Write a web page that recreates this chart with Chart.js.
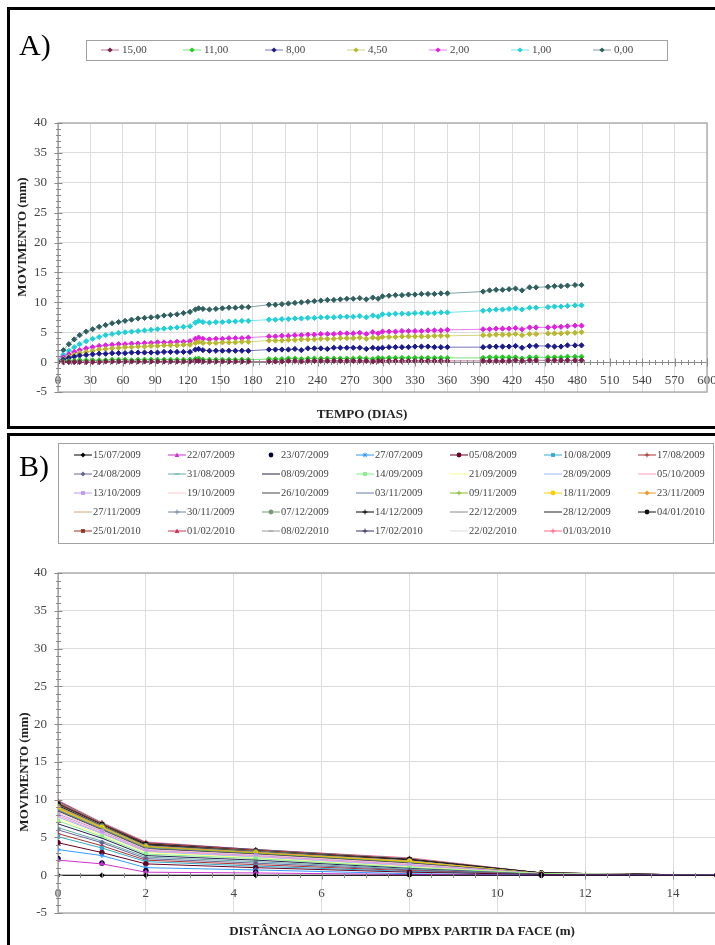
<!DOCTYPE html>
<html>
<head>
<meta charset="utf-8">
<script src="https://cdn.jsdelivr.net/npm/chart.js@4/dist/chart.umd.min.js"></script>
<style>
  html, body { margin: 0; padding: 0; background: #fff; overflow: hidden; width: 715px; height: 945px; }
  canvas { position: absolute; left: 0; }
  #ca { top: 0; }
  #cb { top: 433px; }
  .frame { position: absolute; border: 3px solid #000; }
</style>
</head>
<body>
<canvas id="ca" width="740" height="433"></canvas>
<canvas id="cb" width="740" height="512"></canvas>
<div class="frame" style="left:7px;top:7px;width:720px;height:416px"></div>
<div class="frame" style="left:7px;top:433px;width:720px;height:520px"></div>
<script>
// ---- panel A : movement vs time, one series per anchor depth ----
const depthLabels = ['15,00', '11,00', '8,00', '4,50', '2,00', '1,00', '0,00'];
const depthColors = ['#7f1f4f', '#22cc22', '#1a1a8c', '#b8b830', '#e020e0', '#20d0d8', '#2f5f5f'];

const days = [0, 5, 10, 15, 20, 26, 32, 38, 44, 50,
  56, 62, 68, 74, 80, 86, 92, 98, 104, 110,
  116, 122, 127, 130, 134, 140, 146, 152, 158, 164,
  170, 176, 195, 201, 207, 213, 219, 225, 231, 237,
  243, 249, 255, 261, 267, 273, 279, 285, 291, 296,
  300, 306, 312, 318, 324, 330, 336, 342, 348, 354,
  360, 393, 399, 405, 411, 417, 423, 429, 436, 442,
  453, 459, 465, 471, 478, 484];

const mov150 = [0, 0, 0, 0, 0, 0, 0, 0, 0.1, 0.1,
  0.1, 0.1, 0.1, 0.1, 0.1, 0.1, 0.1, 0.1, 0.1, 0.1,
  0.1, 0.1, 0.2, 0.2, 0.1, 0.1, 0.1, 0.1, 0.1, 0.1,
  0.1, 0.1, 0.1, 0.1, 0.1, 0.2, 0.2, 0.1, 0.2, 0.2,
  0.2, 0.2, 0.2, 0.2, 0.2, 0.2, 0.2, 0.2, 0.1, 0.2,
  0.2, 0.2, 0.2, 0.2, 0.2, 0.2, 0.2, 0.2, 0.2, 0.2,
  0.2, 0.2, 0.2, 0.2, 0.2, 0.2, 0.3, 0.2, 0.3, 0.3,
  0.3, 0.3, 0.3, 0.3, 0.3, 0.3];
const mov110 = [0, 0.1, 0.2, 0.2, 0.3, 0.3, 0.3, 0.3, 0.3, 0.4,
  0.4, 0.4, 0.3, 0.4, 0.4, 0.4, 0.4, 0.4, 0.4, 0.4,
  0.4, 0.4, 0.5, 0.6, 0.4, 0.4, 0.4, 0.4, 0.4, 0.4,
  0.4, 0.4, 0.5, 0.5, 0.5, 0.6, 0.6, 0.5, 0.6, 0.6,
  0.6, 0.6, 0.6, 0.6, 0.6, 0.6, 0.7, 0.6, 0.5, 0.7,
  0.6, 0.7, 0.7, 0.7, 0.7, 0.7, 0.7, 0.7, 0.7, 0.7,
  0.7, 0.7, 0.8, 0.8, 0.8, 0.8, 0.8, 0.6, 0.8, 0.8,
  0.8, 0.8, 0.8, 0.9, 0.9, 0.9];
const mov80 = [0, 0.4, 0.7, 0.9, 1.1, 1.2, 1.3, 1.4, 1.4, 1.5,
  1.5, 1.5, 1.6, 1.6, 1.6, 1.6, 1.6, 1.7, 1.7, 1.7,
  1.7, 1.7, 2.1, 2.2, 2.0, 1.9, 1.9, 1.9, 1.9, 1.9,
  1.9, 1.9, 2.1, 2.1, 2.1, 2.1, 2.2, 2.0, 2.3, 2.3,
  2.3, 2.2, 2.4, 2.4, 2.4, 2.4, 2.4, 2.2, 2.4, 2.3,
  2.4, 2.5, 2.5, 2.5, 2.5, 2.6, 2.6, 2.6, 2.5, 2.5,
  2.5, 2.5, 2.6, 2.6, 2.6, 2.6, 2.7, 2.4, 2.7, 2.7,
  2.7, 2.6, 2.6, 2.8, 2.8, 2.8];
const mov45 = [0, 0.5, 0.9, 1.2, 1.5, 1.7, 1.9, 2.1, 2.2, 2.3,
  2.4, 2.5, 2.5, 2.6, 2.6, 2.7, 2.7, 2.8, 2.8, 2.8,
  2.9, 2.9, 3.2, 3.4, 3.2, 3.2, 3.2, 3.3, 3.3, 3.3,
  3.4, 3.4, 3.6, 3.6, 3.6, 3.7, 3.7, 3.8, 3.8, 3.8,
  3.9, 3.9, 3.9, 4.0, 4.0, 4.0, 4.1, 3.9, 4.1, 4.0,
  4.2, 4.2, 4.2, 4.3, 4.3, 4.3, 4.3, 4.3, 4.4, 4.4,
  4.4, 4.5, 4.5, 4.6, 4.6, 4.6, 4.7, 4.5, 4.7, 4.7,
  4.8, 4.8, 4.8, 4.9, 4.9, 5.0];
const mov20 = [0, 0.8, 1.3, 1.7, 2.0, 2.3, 2.5, 2.7, 2.8, 2.9,
  3.0, 3.0, 3.1, 3.1, 3.2, 3.2, 3.3, 3.3, 3.3, 3.4,
  3.4, 3.5, 3.9, 4.1, 3.9, 3.8, 3.9, 3.9, 4.0, 4.0,
  4.0, 4.1, 4.3, 4.3, 4.4, 4.4, 4.5, 4.5, 4.6, 4.6,
  4.7, 4.7, 4.7, 4.8, 4.8, 4.8, 4.9, 4.7, 5.0, 4.8,
  5.1, 5.1, 5.1, 5.2, 5.2, 5.2, 5.2, 5.3, 5.3, 5.3,
  5.4, 5.5, 5.5, 5.6, 5.6, 5.6, 5.7, 5.5, 5.8, 5.8,
  5.8, 5.9, 5.9, 6.0, 6.1, 6.1];
const mov10 = [0, 1.2, 1.9, 2.5, 3.0, 3.5, 3.9, 4.2, 4.5, 4.7,
  4.9, 5.0, 5.1, 5.2, 5.3, 5.4, 5.5, 5.6, 5.7, 5.8,
  5.9, 6.0, 6.6, 6.9, 6.7, 6.6, 6.7, 6.7, 6.8, 6.8,
  6.9, 6.9, 7.1, 7.1, 7.2, 7.2, 7.3, 7.3, 7.4, 7.4,
  7.5, 7.5, 7.5, 7.6, 7.6, 7.6, 7.7, 7.5, 7.8, 7.6,
  8.0, 8.0, 8.1, 8.1, 8.1, 8.2, 8.2, 8.2, 8.2, 8.3,
  8.3, 8.6, 8.7, 8.8, 8.8, 8.9, 9.0, 8.8, 9.1, 9.1,
  9.2, 9.3, 9.3, 9.4, 9.5, 9.5];
const mov00 = [0, 2.0, 3.0, 3.8, 4.5, 5.1, 5.5, 5.9, 6.2, 6.5,
  6.7, 6.9, 7.1, 7.3, 7.4, 7.5, 7.6, 7.8, 7.9, 8.0,
  8.2, 8.4, 8.8, 9.0, 8.9, 8.8, 8.9, 9.0, 9.1, 9.1,
  9.2, 9.2, 9.6, 9.6, 9.7, 9.8, 9.9, 10.0, 10.1, 10.2,
  10.3, 10.4, 10.4, 10.5, 10.6, 10.6, 10.7, 10.5, 10.8, 10.6,
  11.0, 11.1, 11.2, 11.2, 11.3, 11.3, 11.4, 11.4, 11.4, 11.5,
  11.5, 11.8, 12.0, 12.1, 12.1, 12.2, 12.3, 12.0, 12.5, 12.5,
  12.6, 12.7, 12.7, 12.8, 12.9, 12.9];
const depthSeries = [mov150, mov110, mov80, mov45, mov20, mov10, mov00];

// ---- panel B : movement profile along the MPBX, one series per reading date ----
const distances = [0, 1, 2, 4.5, 8, 11, 15];
const dates = ['15/07/2009', '22/07/2009', '23/07/2009', '27/07/2009', '05/08/2009', '10/08/2009', '17/08/2009',
  '24/08/2009', '31/08/2009', '08/09/2009', '14/09/2009', '21/09/2009', '28/09/2009', '05/10/2009',
  '13/10/2009', '19/10/2009', '26/10/2009', '03/11/2009', '09/11/2009', '18/11/2009', '23/11/2009',
  '27/11/2009', '30/11/2009', '07/12/2009', '14/12/2009', '22/12/2009', '28/12/2009', '04/01/2010',
  '25/01/2010', '01/02/2010', '08/02/2010', '17/02/2010', '22/02/2010', '01/03/2010'];
const profiles = [
  [0, 0, 0, 0, 0, 0, 0],
  [2.0, 1.5, 0.4, 0.3, 0.1, 0, 0],
  [2.2, 1.6, 0.6, 0.4, 0.1, 0, 0],
  [3.4, 2.6, 1.0, 0.7, 0.2, 0, 0],
  [4.3, 3.0, 1.5, 1.0, 0.4, 0.1, 0],
  [5.1, 3.6, 1.8, 1.2, 0.5, 0.1, 0],
  [5.5, 3.9, 2.0, 1.4, 0.6, 0.1, 0],
  [6.0, 4.3, 2.2, 1.6, 0.7, 0.1, 0],
  [6.3, 4.5, 2.4, 1.8, 0.8, 0.1, 0],
  [6.8, 4.9, 2.6, 2.0, 0.9, 0.1, 0],
  [7.2, 5.1, 2.8, 2.2, 1.0, 0.2, 0],
  [7.5, 5.3, 3.0, 2.3, 1.1, 0.2, 0],
  [7.7, 5.5, 3.1, 2.4, 1.2, 0.2, 0],
  [7.9, 5.6, 3.2, 2.5, 1.3, 0.2, 0],
  [8.1, 5.8, 3.3, 2.6, 1.4, 0.2, 0],
  [8.3, 5.9, 3.4, 2.7, 1.5, 0.2, 0],
  [8.5, 6.0, 3.5, 2.8, 1.6, 0.2, 0],
  [8.6, 6.1, 3.6, 2.8, 1.6, 0.2, 0],
  [8.7, 6.2, 3.7, 2.9, 1.7, 0.2, 0],
  [8.8, 6.3, 3.7, 2.9, 1.8, 0.2, 0],
  [8.9, 6.3, 3.8, 3.0, 1.8, 0.2, 0],
  [9.0, 6.4, 3.8, 3.0, 1.9, 0.2, 0],
  [9.0, 6.4, 3.9, 3.0, 1.9, 0.2, 0],
  [9.1, 6.5, 3.9, 3.1, 1.9, 0.2, 0],
  [9.2, 6.5, 4.0, 3.1, 2.0, 0.3, 0],
  [9.3, 6.6, 4.0, 3.2, 2.0, 0.3, 0],
  [9.3, 6.6, 4.1, 3.2, 2.0, 0.3, 0],
  [9.4, 6.7, 4.1, 3.2, 2.1, 0.3, 0],
  [9.5, 6.8, 4.2, 3.3, 2.1, 0.3, 0],
  [9.6, 6.8, 4.2, 3.3, 2.1, 0.3, 0],
  [9.7, 6.9, 4.2, 3.3, 2.2, 0.3, 0],
  [9.8, 6.9, 4.3, 3.4, 2.2, 0.3, 0],
  [9.8, 7.0, 4.3, 3.4, 2.2, 0.3, 0],
  [9.9, 7.0, 4.4, 3.4, 2.3, 0.3, 0]
];
const dateColors = ['#000000', '#cc33cc', '#000033', '#3399ff', '#660022', '#33aacc', '#aa3333',
  '#666699', '#66aaaa', '#222255', '#88ee88', '#ffff88', '#99bbff', '#ff99bb',
  '#bb99ee', '#ffcccc', '#444444', '#6677aa', '#88bb33', '#ffcc00', '#ee9922',
  '#ccaa77', '#778899', '#779977', '#000000', '#888888', '#222222', '#111111',
  '#993322', '#cc3355', '#999999', '#333366', '#dddddd', '#ff6688'];
const dateMarkers = ['rectRot', 'triangle', 'circle', 'star', 'circle', 'rect', 'cross',
  'rectRot', 'line', '', 'rect', '', '', '',
  'rect', '', '', '', 'cross', 'circle', 'rectRot',
  '', 'cross', 'circle', 'cross', '', '', 'circle',
  'rect', 'triangle', 'line', 'cross', '', 'cross'];

const serif = "'Liberation Serif', 'DejaVu Serif', serif";

// small marker painter for the hand-made legends
function mark(ctx, style, x, y, r, color) {
  ctx.save();
  ctx.fillStyle = color;
  ctx.strokeStyle = color;
  ctx.lineWidth = 1;
  ctx.beginPath();
  if (style === 'circle') { ctx.arc(x, y, r, 0, Math.PI * 2); ctx.fill(); }
  else if (style === 'rectRot') { ctx.moveTo(x, y - r); ctx.lineTo(x + r, y); ctx.lineTo(x, y + r); ctx.lineTo(x - r, y); ctx.closePath(); ctx.fill(); }
  else if (style === 'rect') { ctx.rect(x - r * 0.8, y - r * 0.8, r * 1.6, r * 1.6); ctx.fill(); }
  else if (style === 'triangle') { ctx.moveTo(x, y - r); ctx.lineTo(x + r, y + r * 0.8); ctx.lineTo(x - r, y + r * 0.8); ctx.closePath(); ctx.fill(); }
  else if (style === 'cross') { ctx.moveTo(x - r, y); ctx.lineTo(x + r, y); ctx.moveTo(x, y - r); ctx.lineTo(x, y + r); ctx.stroke(); }
  else if (style === 'star') { ctx.moveTo(x - r, y); ctx.lineTo(x + r, y); ctx.moveTo(x, y - r); ctx.lineTo(x, y + r); ctx.moveTo(x - r * 0.7, y - r * 0.7); ctx.lineTo(x + r * 0.7, y + r * 0.7); ctx.moveTo(x - r * 0.7, y + r * 0.7); ctx.lineTo(x + r * 0.7, y - r * 0.7); ctx.stroke(); }
  else if (style === 'line') { ctx.moveTo(x - r, y); ctx.lineTo(x + r, y); ctx.stroke(); }
  ctx.restore();
}

// plot outline, crossing tick marks, titles and legend
function decor(cfg) {
  return {
    id: 'decor',
    beforeDatasetsDraw(chart) {
      const { ctx, chartArea: a } = chart;
      ctx.save();
      ctx.strokeStyle = '#b0b0b0';
      ctx.lineWidth = 1.5;
      ctx.strokeRect(a.left, a.top, a.right - a.left, a.bottom - a.top);
      ctx.restore();
    },
    afterDraw(chart) {
      const { ctx, chartArea: a, scales: { x, y } } = chart;
      const y0 = Math.round(y.getPixelForValue(0)) + 0.5;
      const xl = Math.round(a.left) + 0.5;
      ctx.save();
      ctx.strokeStyle = '#8a8a8a';
      ctx.lineWidth = 1;
      ctx.beginPath();
      for (let v = y.min; v <= y.max; v += 1) {
        const p = Math.round(y.getPixelForValue(v)) + 0.5;
        const L = v % 5 === 0 ? 4 : 2.5;
        ctx.moveTo(xl - L, p); ctx.lineTo(xl + L, p);
      }
      for (let v = x.min; v <= x.max + 1e-9; v += cfg.minorX) {
        const p = Math.round(x.getPixelForValue(v)) + 0.5;
        const major = Math.abs(v / cfg.majorX - Math.round(v / cfg.majorX)) < 1e-6;
        const L = major ? 4 : 2.5;
        ctx.moveTo(p, y0 - L); ctx.lineTo(p, y0 + L);
      }
      ctx.stroke();

      // panel letter
      ctx.fillStyle = '#000';
      ctx.font = '30px ' + serif;
      ctx.textAlign = 'left';
      ctx.textBaseline = 'alphabetic';
      ctx.fillText(cfg.letter, cfg.letterX, cfg.letterY);

      // axis titles
      ctx.font = 'bold 13px ' + serif;
      ctx.fillStyle = '#222';
      ctx.textAlign = 'center';
      ctx.textBaseline = 'middle';
      ctx.fillText(cfg.xTitle, cfg.xTitleX, cfg.xTitleY);
      ctx.save();
      ctx.translate(cfg.yTitleX, cfg.yTitleY);
      ctx.rotate(-Math.PI / 2);
      ctx.fillText(cfg.yTitle, 0, 0);
      ctx.restore();

      // legend
      const lg = cfg.legend;
      ctx.strokeStyle = '#a0a0a0';
      ctx.lineWidth = 1;
      ctx.strokeRect(lg.box[0] + 0.5, lg.box[1] + 0.5, lg.box[2], lg.box[3]);
      ctx.font = lg.fontSize + 'px ' + serif;
      ctx.textAlign = 'left';
      ctx.textBaseline = 'middle';
      chart.data.datasets.forEach((ds, i) => {
        const col = i % lg.cols, row = Math.floor(i / lg.cols);
        const mx = lg.x0 + col * lg.dx, my = lg.y0 + row * lg.dy;
        if (ds.showLine !== false) {
          ctx.strokeStyle = ds.borderColor;
          ctx.lineWidth = ds.borderWidth;
          ctx.beginPath(); ctx.moveTo(mx - 9, my); ctx.lineTo(mx + 9, my); ctx.stroke();
        }
        if (ds.pointRadius > 0) mark(ctx, ds.pointStyle, mx, my, ds.pointRadius, ds.pointBackgroundColor);
        ctx.fillStyle = '#444';
        ctx.fillText(ds.label, mx + lg.textGap, my + 0.5);
      });
      ctx.restore();
    }
  };
}

function axes(xMax, xStep, padding) {
  const tickFont = { family: serif, size: 13 };
  return {
    responsive: false,
    animation: false,
    devicePixelRatio: 1,
    layout: { padding },
    plugins: { legend: { display: false }, tooltip: { enabled: false } },
    scales: {
      x: {
        type: 'linear',
        position: { y: 0 },
        min: 0,
        max: xMax,
        ticks: { stepSize: xStep, autoSkip: false, maxRotation: 0, includeBounds: false, padding: 11, color: '#444', font: tickFont },
        grid: { color: '#dcdcdc', drawTicks: false },
        border: { color: '#8a8a8a' }
      },
      y: {
        min: -5,
        max: 40,
        ticks: { stepSize: 5, padding: 11, color: '#444', font: tickFont },
        grid: { color: '#dcdcdc', drawTicks: false },
        border: { color: '#8a8a8a' },
        afterFit(scale) { scale.width = 47; }
      }
    }
  };
}

// chart A
const dsA = depthLabels.map((lab, i) => ({
  label: lab,
  data: days.map((d, k) => ({ x: d, y: depthSeries[i][k] })),
  borderColor: depthColors[i] + '99',
  borderWidth: 1,
  pointStyle: 'rectRot',
  pointRadius: 2.6,
  pointBackgroundColor: depthColors[i],
  pointBorderColor: depthColors[i],
  pointBorderWidth: 1,
  tension: 0
}));
new Chart(document.getElementById('ca'), {
  type: 'line',
  data: { datasets: dsA },
  options: axes(600, 30, { left: 11, right: 33, top: 123, bottom: 41 }),
  plugins: [decor({
    minorX: 6, majorX: 30,
    letter: 'A)', letterX: 19, letterY: 55,
    xTitle: 'TEMPO (DIAS)', xTitleX: 362, xTitleY: 415,
    yTitle: 'MOVIMENTO (mm)', yTitleX: 23, yTitleY: 237,
    legend: { box: [86, 40, 581, 20], x0: 110, y0: 50, dx: 82, dy: 0, cols: 7, textGap: 12, fontSize: 11 }
  })]
});

// chart B
const dsB = dates.map((lab, i) => ({
  label: lab,
  data: distances.map((d, k) => ({ x: d, y: profiles[i][k] })),
  borderColor: dateColors[i],
  borderWidth: 1,
  showLine: i !== 2,
  pointStyle: dateMarkers[i] || 'circle',
  pointRadius: dateMarkers[i] ? 2.4 : 0,
  pointBackgroundColor: dateColors[i],
  pointBorderColor: dateColors[i],
  pointBorderWidth: 1,
  tension: 0
}));
new Chart(document.getElementById('cb'), {
  type: 'line',
  data: { datasets: dsB },
  options: axes(15, 2, { left: 11, right: 23, top: 140, bottom: 32 }),
  plugins: [decor({
    minorX: 0.5, majorX: 2,
    letter: 'B)', letterX: 19, letterY: 43,
    xTitle: 'DISTÂNCIA AO LONGO DO MPBX PARTIR DA FACE (m)', xTitleX: 402, xTitleY: 499,
    yTitle: 'MOVIMENTO (mm)', yTitleX: 25, yTitleY: 339,
    legend: { box: [58, 10, 655, 100], x0: 83, y0: 22, dx: 94, dy: 19, cols: 7, textGap: 10, fontSize: 10.5 }
  })]
});
</script>
</body>
</html>
